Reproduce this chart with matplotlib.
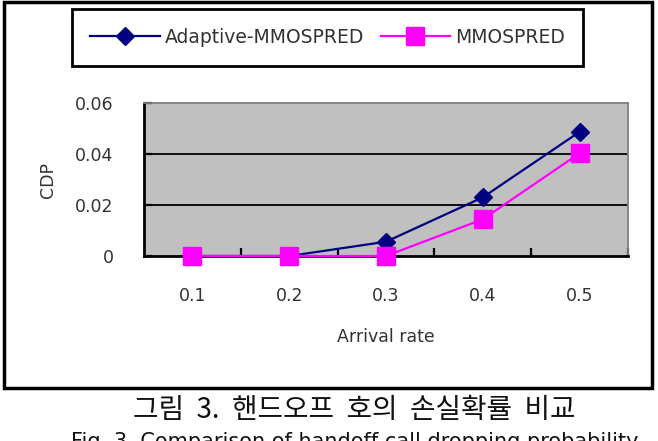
import matplotlib
matplotlib.use("Agg")
import matplotlib.pyplot as plt
from matplotlib.patches import Rectangle
import numpy as np

plt.rcParams['font.family'] = ['DejaVu Sans', 'Noto Sans CJK KR']

# data
rates = ['0.1', '0.2', '0.3', '0.4', '0.5']
adaptive = [0.0, 0.0, 0.0056, 0.023, 0.0487]
mmospred = [0.0, 0.0, 0.0, 0.0144, 0.0403]
yticks = [0, 0.02, 0.04, 0.06]
ytick_labels = ['0', '0.02', '0.04', '0.06']

W, H = 658, 441
fig = plt.figure(figsize=(W/100, H/100), dpi=100, facecolor='w')

# outer chart frame
fig.patches.append(Rectangle((3.5/W, 1-388/H), 648/W, 386/H, transform=fig.transFigure,
                             fill=False, edgecolor='k', linewidth=2.5, zorder=0))

ax = fig.add_axes([144/W, 1-256/H, 484/W, 153/H])
ax.set_facecolor('#C0C0C0')

x = np.arange(len(rates))
ax.plot(x, adaptive, '-D', color='#000080', lw=1.6, markersize=9, label='Adaptive-MMOSPRED',
        zorder=3, clip_on=False)
ax.plot(x, mmospred, '-s', color='#FF00FF', lw=1.6, markersize=12.5, label='MMOSPRED',
        zorder=4, clip_on=False)

ax.set_xlim(-0.5, len(rates)-0.5)
ax.set_ylim(0, 0.06)
ax.set_yticks(yticks)
ax.set_yticklabels(ytick_labels)
for yv in yticks[1:-1]:
    ax.axhline(yv, color='k', lw=1.3, zorder=1)

ax.set_xticks(x)
ax.set_xticklabels(rates)
ax.set_xticks(list(x+0.5), minor=True)
ax.tick_params(axis='x', which='major', length=0, pad=22, labelsize=12.5, labelcolor='#333333')
ax.tick_params(axis='x', which='minor', direction='in', length=6, width=1.6, color='k')
ax.tick_params(axis='y', direction='in', length=6, width=1.6, pad=22, labelsize=12.5, labelcolor='#333333')

for s in ['left', 'bottom']:
    ax.spines[s].set_linewidth(2)
    ax.spines[s].set_color('k')
for s in ['top', 'right']:
    ax.spines[s].set_linewidth(1.3)
    ax.spines[s].set_color('#808080')

ax.set_ylabel('CDP', fontsize=12.5, color='#333333', labelpad=13)
ax.set_xlabel('Arrival rate', fontsize=12.5, color='#333333', labelpad=17)

leg = fig.legend(loc='center', bbox_to_anchor=(327.5/W, 1-37.5/H), ncol=2, fontsize=13.5,
                 frameon=True, fancybox=False, framealpha=1, edgecolor='k',
                 handlelength=3.7, columnspacing=0.9, handletextpad=0.25, borderpad=1.0,
                 borderaxespad=0)
leg.get_frame().set_linewidth(2)
for t in leg.get_texts():
    t.set_color('#333333')

fig.text(354/W, 1-410/H, '그림  3.  핸드오프  호의  손실확률  비교', ha='center', va='center',
         fontsize=20, family=['Noto Sans CJK KR', 'DejaVu Sans'], color='#111111')
fig.text(355/W, 1-432/H, 'Fig. 3. Comparison of handoff call dropping probability', ha='center', va='top',
         fontsize=15, color='#111111')

fig.savefig('out.png', dpi=100, facecolor='w')
